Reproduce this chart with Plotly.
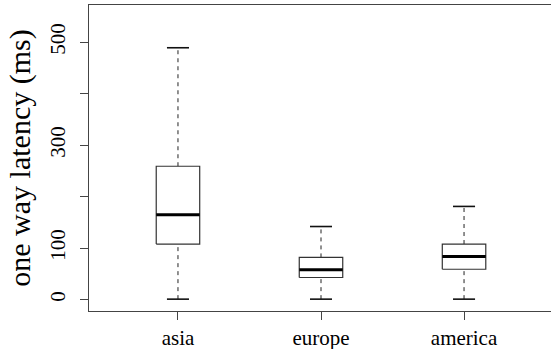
import plotly.graph_objects as go

regions = ["asia", "europe", "america"]
lower_whisker = [1, 1, 1]
q1 = [108, 43, 59]
median = [165, 58, 84]
q3 = [259, 82, 108]
upper_whisker = [489, 142, 181]

y_tick_vals = [0, 100, 200, 300, 400, 500]
y_tick_text = ["0", "100", "", "300", "", "500"]

FONT = "Liberation Serif"
BOX_HALF = 0.152
CAP_HALF = 0.077
EDGE = "#333333"

fig = go.Figure()
xs = list(range(1, len(regions) + 1))

# whiskers (dashed)
wx, wy = [], []
for c, lo, a, b, hi in zip(xs, lower_whisker, q1, q3, upper_whisker):
    wx += [c, c, None, c, c, None]
    wy += [lo, a, None, b, hi, None]
fig.add_trace(go.Scatter(x=wx, y=wy, mode="lines",
                         line=dict(color="#222222", width=1, dash="4px,4px"),
                         hoverinfo="skip", showlegend=False))

# caps
cx, cy = [], []
for c, lo, hi in zip(xs, lower_whisker, upper_whisker):
    cx += [c - CAP_HALF, c + CAP_HALF, None, c - CAP_HALF, c + CAP_HALF, None]
    cy += [lo, lo, None, hi, hi, None]
fig.add_trace(go.Scatter(x=cx, y=cy, mode="lines",
                         line=dict(color="#111111", width=1.6),
                         hoverinfo="skip", showlegend=False))

# boxes
for c, a, b in zip(xs, q1, q3):
    fig.add_trace(go.Scatter(
        x=[c - BOX_HALF, c + BOX_HALF, c + BOX_HALF, c - BOX_HALF, c - BOX_HALF],
        y=[a, a, b, b, a], mode="lines", fill="toself", fillcolor="white",
        line=dict(color=EDGE, width=1.2), hoverinfo="skip", showlegend=False))

# medians
mx, my = [], []
for c, m in zip(xs, median):
    mx += [c - BOX_HALF, c + BOX_HALF, None]
    my += [m, m, None]
fig.add_trace(go.Scatter(x=mx, y=my, mode="lines",
                         line=dict(color="black", width=3),
                         hoverinfo="skip", showlegend=False))

fig.update_layout(
    width=551, height=349,
    margin=dict(l=89, r=0, t=5, b=38),
    paper_bgcolor="white", plot_bgcolor="white",
    font=dict(family=FONT, color="black", size=21),
    xaxis=dict(range=[0.378, 3.608], tickvals=xs, ticktext=regions,
               showgrid=False, zeroline=False, showline=True, mirror=True,
               linecolor="#444444", linewidth=1.2, ticks="outside", ticklen=8,
               tickcolor="#444444", tickfont=dict(size=21, family=FONT)),
    yaxis=dict(range=[-22, 572], tickvals=y_tick_vals, ticktext=y_tick_text,
               showgrid=False, zeroline=False, showline=True, mirror=False,
               linecolor="#444444", linewidth=1.2, ticks="outside", ticklen=8,
               tickcolor="#444444", tickangle=-90, ticklabelstandoff=7,
               tickfont=dict(size=21, family=FONT),
               title=dict(text="one way latency (ms)", standoff=6,
                          font=dict(size=30, family=FONT))),
)

fig.write_html("out.html", config={"displayModeBar": False},
               post_script="document.body.style.margin='0';document.body.style.overflow='hidden';")
